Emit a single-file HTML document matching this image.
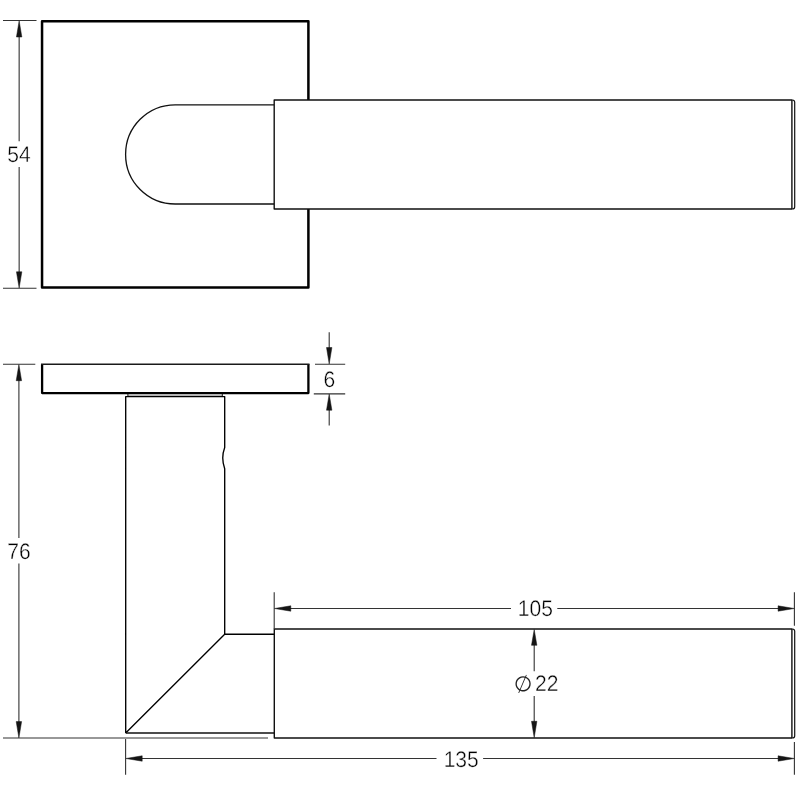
<!DOCTYPE html>
<html lang="en">
<head>
<meta charset="utf-8">
<title>Lever handle dimension drawing</title>
<style>
html,body{margin:0;padding:0;background:#fff;}
body{width:800px;height:800px;overflow:hidden;}
svg{display:block;will-change:transform;}
text{font-family:"Liberation Sans",sans-serif;font-size:22.4px;text-rendering:geometricPrecision;text-anchor:middle;fill:#000;stroke:#fff;stroke-width:0.4px;paint-order:fill stroke;}
.o{fill:none;stroke:#111;stroke-width:1.4;stroke-linejoin:round;}
.h{fill:none;stroke:#000;stroke-width:2.5;stroke-linejoin:round;}
.d{fill:none;stroke:#333;stroke-width:1.1;}
.a{fill:#151515;stroke:#151515;stroke-width:0.5;stroke-linejoin:miter;stroke-miterlimit:10;}
</style>
</head>
<body>
<svg width="800" height="800" viewBox="0 0 800 800" role="img" aria-label="Lever handle on square rose, dimensioned drawing">
<rect width="800" height="800" fill="#fff"/>

<!-- TOP VIEW -->
<!-- rose plate square -->
<path class="h" d="M308.4 100 V21.2 H42.05 V287.5 H308.4 V209"/>
<!-- slot -->
<path class="o" style="stroke-width:1.3" d="M274 104.8 H175.2 A49.6 49.6 0 0 0 175.2 204 H274"/>
<!-- handle -->
<path class="o" d="M792.4 100 H274.2 V209 H792.4"/>
<path class="o" style="stroke-width:1.4" d="M791.9 100 V209"/>
<path class="o" style="stroke-width:1.2" d="M792.4 100 Q794.7 100 794.7 102.3 V206.7 Q794.7 209 792.4 209"/>

<!-- dimension 54 -->
<path class="d" d="M3 20.5 H36.5 M3 288.3 H36.5 M19.15 36 V141.3 M19.15 166.9 V273"/>
<path class="a" d="M19.15 20.8 L21.85 37 H16.45 Z M19.15 288 L21.85 271.8 H16.45 Z"/>
<text transform="translate(19.0 162.4) scale(0.94 1)">54</text>

<!-- SIDE VIEW -->
<!-- plate -->
<path class="h" style="stroke-width:2.3" d="M42.1 364.2 V393.1 H308.4 V364.2"/>
<path class="o" style="stroke-width:1.5;stroke:#1a1a1a" d="M41 364.2 H309.5"/>
<!-- washer -->
<rect x="128" y="394" width="94.3" height="2.4" fill="#b4b4b4"/>
<path class="o" style="stroke-width:1" d="M127.9 394 V396.4 M222.3 394 V396.4"/>
<!-- neck -->
<path class="o" style="stroke-width:1.35;stroke:#000" d="M125.7 732.9 V396.6 H224.7 V447.5 Q220.8 458 224.7 468.7 V634.2 H274.2 M224.7 634.2 L125.7 732.9"/>
<path class="o" d="M125.7 733 H274.2"/>
<!-- handle -->
<path class="o" d="M792.4 629 H274.3 V738 H792.4"/>
<path class="o" style="stroke-width:1.4" d="M791.9 629 V738"/>
<path class="o" style="stroke-width:1.2" d="M792.4 629 Q794.7 629 794.7 631.3 V735.7 Q794.7 738 792.4 738"/>

<!-- dimension 76 -->
<path class="d" d="M3 364.3 H35.3 M3 738.05 H268 M18.9 380 V538.1 M18.9 563.5 V722"/>
<path class="a" d="M18.9 364.6 L21.6 380.7 H16.2 Z M18.9 737.9 L21.6 721.6 H16.2 Z"/>
<text transform="translate(19.0 558.75) scale(0.94 1)">76</text>

<!-- dimension 6 -->
<path class="d" d="M315 364.3 H345.2 M313.8 393.85 H345.2 M329.2 332.3 V348 M329.2 409.5 V425.6"/>
<path class="a" d="M329.2 364 L331.9 347.5 H326.5 Z M329.2 394.1 L331.9 410.2 H326.5 Z"/>
<text transform="translate(329.4 386.8) scale(0.94 1)">6</text>

<!-- dimension 105 -->
<path class="d" d="M274.2 592.3 V629 M794.4 592.3 V625.8 M290 608.5 H511 M557.3 608.5 H779"/>
<path class="a" d="M274.5 608.5 L290.8 605.8 V611.2 Z M794.2 608.5 L778.1 605.8 V611.2 Z"/>
<text transform="translate(535.3 616.35) scale(0.94 1)">105</text>

<!-- dimension 135 -->
<path class="d" d="M125.6 739 V774.8 M794.4 741.9 V774.8 M141.5 758.5 H436.5 M483.1 758.5 H779"/>
<path class="a" d="M125.9 758.5 L142.2 755.8 V761.2 Z M794.2 758.5 L778.1 755.8 V761.2 Z"/>
<text transform="translate(461.2 766.7) scale(0.94 1)">135</text>

<!-- dimension dia 22 -->
<path class="d" d="M534.2 644.5 V671.2 M534.2 696 V722"/>
<path class="a" d="M534.2 629.5 L536.9 645.3 H531.5 Z M534.2 737.7 L536.9 721.3 H531.5 Z"/>
<text transform="translate(546.8 691.2) scale(0.94 1)">22</text>
<text transform="translate(523.3 684.8) rotate(-16)" style="font-family:'Liberation Sans','DejaVu Sans',sans-serif;font-size:21.2px;fill:#222;stroke:none" dominant-baseline="central">∅</text>
</svg>
</body>
</html>
